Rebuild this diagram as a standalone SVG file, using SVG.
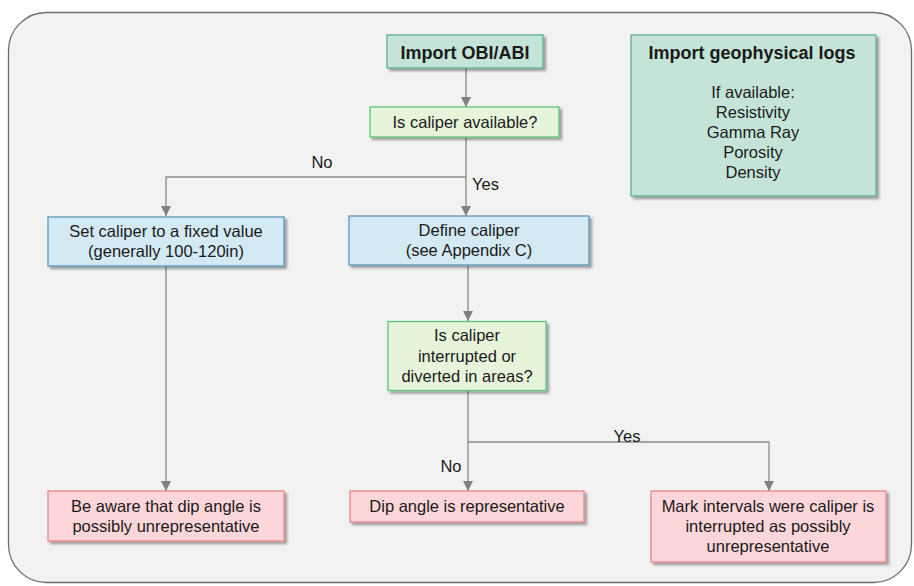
<svg xmlns="http://www.w3.org/2000/svg" width="914" height="586" viewBox="0 0 914 586">
<defs>
<filter id="sh" x="-10%" y="-10%" width="130%" height="140%">
<feDropShadow dx="2.5" dy="2.5" stdDeviation="1.2" flood-color="#000" flood-opacity="0.35"/>
</filter>
<marker id="arr" viewBox="0 0 10 10" refX="10" refY="5" markerWidth="10" markerHeight="10" markerUnits="userSpaceOnUse" orient="auto">
<path d="M0,0 L10,5 L0,10 Z" fill="#808080"/>
</marker>
</defs>
<style>
text{font-family:"Liberation Sans",Arial,sans-serif;font-size:16.5px;fill:#1a1a1a;text-anchor:middle}
.b{font-weight:bold;font-size:18px}
.teal{fill:#c5e4d8;stroke:#5fae8c;stroke-width:1.3}
.grn{fill:#e6f4d9;stroke:#5cc47a;stroke-width:1.3}
.blu{fill:#d3e9f3;stroke:#5b97b8;stroke-width:1.3}
.red{fill:#fcd6d8;stroke:#e8868a;stroke-width:1.3}
.c{fill:none;stroke:#8a8a8a;stroke-width:1.3}
.lbl{text-anchor:start}
</style>
<rect x="8.5" y="12.5" width="903" height="570" rx="38" ry="38" fill="#f2f2f2" stroke="#6e6e6e" stroke-width="1.3"/>
<g id="connectors">
<path class="c" d="M466,68 V107" marker-end="url(#arr)"/>
<path class="c" d="M466,137 V216" marker-end="url(#arr)"/>
<path class="c" d="M466,177 H166 V216" marker-end="url(#arr)"/>
<path class="c" d="M468,265 V321" marker-end="url(#arr)"/>
<path class="c" d="M468,391 V491" marker-end="url(#arr)"/>
<path class="c" d="M468,442 H769 V491" marker-end="url(#arr)"/>
<path class="c" d="M166,266 V491" marker-end="url(#arr)"/>
<text x="322" y="168">No</text>
<text class="lbl" x="472" y="190">Yes</text>
<text x="627" y="442">Yes</text>
<text x="451" y="472">No</text>
</g>
<g id="import-obi">
<rect class="teal" x="387" y="35" width="156" height="33" filter="url(#sh)"/>
<text class="b" x="465" y="59">Import OBI/ABI</text>
</g>
<g id="import-logs">
<rect class="teal" x="631" y="35" width="245" height="161" filter="url(#sh)"/>
<text class="b" x="752" y="59">Import geophysical logs</text>
<text x="753" y="98">If available:</text>
<text x="753" y="118">Resistivity</text>
<text x="753" y="138">Gamma Ray</text>
<text x="753" y="158">Porosity</text>
<text x="753" y="178">Density</text>
</g>
<g id="caliper-available">
<rect class="grn" x="370" y="107" width="189" height="30" filter="url(#sh)"/>
<text x="465" y="128">Is caliper available?</text>
</g>
<g id="set-caliper">
<rect class="blu" x="48" y="217" width="236" height="49" filter="url(#sh)"/>
<text x="166" y="237">Set caliper to a fixed value</text>
<text x="166" y="257">(generally 100-120in)</text>
</g>
<g id="define-caliper">
<rect class="blu" x="349" y="216" width="240" height="49" filter="url(#sh)"/>
<text x="469" y="236">Define caliper</text>
<text x="469" y="256">(see Appendix C)</text>
</g>
<g id="caliper-interrupted">
<rect class="grn" x="388" y="321.5" width="158" height="69" filter="url(#sh)"/>
<text x="467" y="341">Is caliper</text>
<text x="467" y="362">interrupted or</text>
<text x="467" y="382">diverted in areas?</text>
</g>
<g id="be-aware">
<rect class="red" x="48" y="491" width="236" height="50" filter="url(#sh)"/>
<text x="166" y="512">Be aware that dip angle is</text>
<text x="166" y="532">possibly unrepresentative</text>
</g>
<g id="dip-representative">
<rect class="red" x="350" y="491" width="234" height="31" filter="url(#sh)"/>
<text x="467" y="512">Dip angle is representative</text>
</g>
<g id="mark-intervals">
<rect class="red" x="651" y="491" width="235" height="71" filter="url(#sh)"/>
<text x="768" y="512">Mark intervals were caliper is</text>
<text x="768" y="532">interrupted as possibly</text>
<text x="768" y="552">unrepresentative</text>
</g>
</svg>
